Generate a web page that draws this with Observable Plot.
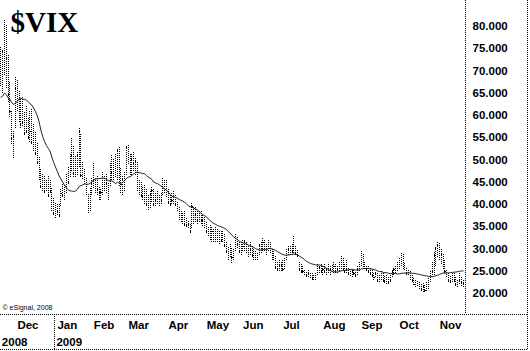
<!DOCTYPE html>
<html><head><meta charset="utf-8">
<script src="https://cdn.jsdelivr.net/npm/d3@7"></script>
<script src="https://cdn.jsdelivr.net/npm/@observablehq/plot@0.6"></script>
<style>
html,body{margin:0;padding:0;background:#fff;}
#chart svg{display:block;}
</style></head><body><div id="chart"></div>
<script>
// Daily $VIX bars, 18 Nov 2008 – 20 Nov 2009 (one entry per trading day)
const high = [
 75.5,74.6,81.5,80.3,73.5,67.5,61.0,56.5,
 68.6,68.0,65.5,63.5,64.0,61.0,62.0,59.5,61.0,61.5,58.0,56.5,54.0,50.5,48.0,47.0,46.5,45.5,46.5,45.5,43.5,41.5,
 40.5,40.3,39.9,43.6,44.6,44.5,46.8,48.5,51.5,55.0,53.0,51.0,52.0,57.2,56.0,49.5,48.0,46.0,42.5,43.5,
 46.0,49.5,46.0,46.5,44.0,43.5,47.5,46.5,47.0,45.0,49.5,51.0,50.0,51.5,52.5,53.0,48.0,46.5,47.5,
 53.0,53.5,51.5,51.5,52.0,50.5,49.5,45.5,45.0,44.0,44.5,43.5,42.0,43.0,44.0,43.5,42.5,43.0,42.0,42.5,46.0,45.5,
 45.5,43.5,42.0,42.5,43.0,42.0,40.5,39.5,38.5,38.0,38.6,37.0,36.5,35.8,40.2,39.5,39.3,38.5,38.5,38.6,37.5,
 37.0,36.0,35.0,35.5,35.0,34.5,34.8,34.5,34.0,34.0,34.0,33.5,31.5,30.5,31.0,30.0,30.0,33.5,32.5,31.5,
 31.5,32.0,32.0,31.5,30.5,31.5,30.5,30.0,29.5,29.0,31.0,31.5,32.6,32.0,31.0,32.0,31.5,30.0,29.5,28.5,27.0,27.5,
 27.0,27.5,28.0,30.0,30.8,30.5,31.0,33.0,30.5,29.7,27.0,26.5,26.0,25.5,25.0,25.2,24.8,24.5,24.0,24.5,26.5,26.3,
 26.5,26.0,26.7,25.8,26.5,26.0,26.3,27.0,26.5,26.0,27.0,28.5,28.0,26.5,27.5,25.8,25.5,25.5,25.5,25.0,26.0,
 27.0,29.7,29.0,27.0,26.3,26.0,25.8,25.2,24.8,25.0,24.5,24.0,25.0,24.5,24.0,24.0,23.5,24.0,25.5,25.8,26.0,
 27.0,28.0,29.2,29.0,27.0,25.8,25.5,25.0,24.0,23.5,23.0,23.0,22.5,22.0,22.5,22.0,22.5,23.5,25.0,27.0,29.5,30.3,
 31.5,31.2,30.0,29.0,27.5,25.5,24.5,24.0,24.5,24.5,23.5,23.0,24.5,23.5,23.0
];
const low = [
 66.5,65.0,69.0,66.0,63.0,59.5,53.5,50.3,
 57.0,61.0,58.5,57.0,57.5,55.5,56.0,54.5,54.0,53.5,52.0,51.0,49.0,45.5,43.5,43.0,42.5,43.0,41.5,42.5,38.5,37.5,
 36.9,37.5,37.0,39.5,41.5,41.0,42.5,44.5,46.0,47.5,46.0,46.0,46.5,48.3,46.0,45.6,44.5,42.0,38.0,38.5,
 42.0,43.5,42.5,42.0,41.0,41.0,42.0,43.0,42.5,41.0,44.0,45.5,45.5,46.0,45.5,44.0,42.5,42.0,43.0,
 46.5,49.0,46.0,46.5,47.5,46.5,43.0,42.0,41.5,41.0,40.0,39.5,38.6,39.0,40.5,39.5,39.5,40.0,39.5,40.0,42.0,42.5,
 41.5,40.0,39.5,40.0,40.0,39.5,38.5,36.5,36.0,35.5,35.0,34.8,34.5,33.5,34.5,35.5,36.0,35.5,36.0,35.5,35.0,
 34.5,33.5,32.8,32.0,31.5,31.5,31.5,31.5,31.0,31.5,31.5,30.3,29.0,27.5,28.0,26.7,27.5,29.5,30.0,29.0,
 28.5,29.5,29.5,29.0,28.0,28.5,28.0,27.5,27.5,27.5,28.5,29.0,29.5,29.5,28.5,29.5,29.0,27.4,27.5,25.5,25.0,25.0,
 25.0,25.0,25.5,27.5,28.5,28.5,28.5,29.0,28.5,28.0,25.0,24.5,24.5,24.0,23.5,23.5,23.3,23.0,22.9,23.0,24.0,24.5,
 24.5,24.0,24.5,24.0,24.5,24.0,24.8,24.5,24.5,24.5,25.0,25.5,25.0,24.5,24.5,24.0,23.8,23.5,24.0,23.5,24.0,
 25.0,26.0,25.8,25.5,25.0,24.5,24.0,23.5,23.0,23.5,22.5,22.5,23.0,22.5,22.3,22.0,22.0,22.5,23.5,24.0,24.5,
 25.0,25.5,26.0,25.5,25.2,24.0,24.0,23.0,22.5,21.8,21.3,21.5,20.8,20.5,20.3,20.2,20.5,21.0,22.5,24.0,24.0,26.0,
 28.0,27.5,26.5,25.5,24.5,23.5,22.5,22.3,22.5,22.5,21.5,21.3,22.0,21.5,21.3
];
const close = [
 67.6,74.3,80.9,72.7,64.7,60.9,54.9,55.3,
 66.0,62.0,59.0,58.0,58.5,56.0,56.5,55.0,56.5,54.0,53.0,51.5,49.5,46.0,44.0,43.5,43.0,43.5,42.0,43.0,39.0,38.0,
 38.0,38.5,37.5,42.5,42.0,41.5,45.0,45.0,48.0,51.0,47.0,49.0,51.0,56.5,46.5,47.3,45.7,42.3,38.3,42.8,
 44.8,45.5,43.1,43.4,42.8,42.6,46.2,44.0,44.8,42.0,48.7,47.1,46.9,49.0,52.2,44.7,44.4,45.6,46.4,
 52.7,50.9,46.8,50.2,49.3,49.7,43.6,44.4,42.0,41.7,42.4,40.0,40.3,42.3,43.2,40.0,41.0,41.5,40.3,41.0,45.5,44.1,
 42.3,40.5,40.0,40.9,42.0,40.1,39.0,36.6,37.9,36.2,35.5,35.3,35.5,34.0,39.5,36.6,37.8,36.3,37.9,36.5,36.5,
 35.3,34.0,34.0,32.5,34.0,32.1,33.5,32.5,33.5,32.0,33.1,30.8,29.4,29.5,30.0,28.0,29.0,31.5,31.0,29.5,
 31.0,30.6,31.6,29.7,29.6,29.8,28.5,29.0,28.2,28.2,30.8,30.5,31.5,30.0,30.0,31.5,30.5,29.0,28.0,25.9,25.4,26.4,
 26.2,25.5,27.9,29.0,29.8,30.0,29.5,30.5,29.0,28.5,25.5,25.0,25.0,24.3,24.0,24.5,23.5,23.4,23.1,24.0,26.0,25.9,
 25.0,25.5,25.0,25.5,24.8,25.5,25.5,26.0,25.0,25.5,26.5,27.5,25.5,25.0,25.5,24.5,24.0,25.0,24.5,24.0,25.5,
 26.0,29.0,26.5,26.0,25.5,25.0,24.5,24.0,23.5,24.5,23.0,23.5,24.0,23.0,22.8,23.5,22.5,23.0,25.0,25.5,25.6,
 26.5,27.5,28.5,26.0,25.5,24.5,24.8,23.5,23.0,22.0,22.5,21.8,21.5,21.0,21.5,20.7,22.0,23.0,24.5,25.0,28.5,30.0,
 30.7,29.8,28.8,27.0,25.0,24.2,23.0,22.8,24.0,23.0,22.0,22.5,23.0,22.5,22.2
];
// 19 closes before the first bar (22 Oct – 17 Nov 2008), feeding the 20-day average
const priorCloses = [69.7,67.8,79.1,80.1,67.0,70.0,62.9,59.9,54.9,47.7,54.6,63.7,56.1,60.0,61.4,66.5,59.8,66.3,67.6];
const maPeriod = 20;

const monthLabels = ["Dec","Jan","Feb","Mar","Apr","May","Jun","Jul","Aug","Sep","Oct","Nov"];
const monthStarts = [8,30,50,69,91,112,132,154,176,197,218,240];   // bar index of each month's first session
const yearLabels = ["2008","2009"];
const yearStarts = [0,30];
const yTicks = [20,25,30,35,40,45,50,55,60,65,70,75,80];
const title = "$VIX";
const credit = "© eSignal, 2008";

const n = Math.min(high.length, low.length, close.length);
const bars = d3.range(n).map(i => ({i, high: high[i], low: low[i], close: close[i]}));
const allCloses = priorCloses.concat(close.slice(0, n));
const ma = bars.map(b => {
  const k = b.i + priorCloses.length;
  return {i: b.i, ma: d3.mean(allCloses.slice(k - maPeriod + 1, k + 1))};
});

const W = 530, H = 351, MR = 65, MB = 37;
const sans = "'Liberation Sans', Arial, sans-serif";
const chart = Plot.plot({
  width: W, height: H,
  marginLeft: 0, marginRight: MR, marginTop: 0, marginBottom: MB,
  x: {domain: [-0.2, 255.3], axis: null},
  y: {domain: [15.28, 85.84], axis: null},
  style: {background: "#fff", fontFamily: sans, overflow: "visible"},
  marks: [
    Plot.ruleX(bars, {x: "i", y1: "low", y2: "high", stroke: "#000", strokeWidth: 1, strokeDasharray: "1,1", shapeRendering: "crispEdges"}),
    Plot.ruleY(bars, {y: "close", x1: "i", x2: d => d.i + 0.6, stroke: "#000", strokeWidth: 1, shapeRendering: "crispEdges"}),
    Plot.line(ma, {x: "i", y: "ma", stroke: "#222", strokeWidth: 1}),
    Plot.axisY(yTicks, {anchor: "right", tickSize: 0, tickPadding: 7, tickFormat: d => d.toFixed(3), fontSize: 11.5, fontWeight: "bold", fill: "#000", label: null}),
    Plot.axisX(monthStarts, {anchor: "bottom", tickSize: 0, tickPadding: 6, tickFormat: d => monthLabels[monthStarts.indexOf(d)], textAnchor: "start", dx: 2, fontSize: 11.5, fontWeight: "bold", fill: "#000", label: null}),
    Plot.axisX(yearStarts, {anchor: "bottom", tickSize: 0, tickPadding: 23, tickFormat: d => yearLabels[yearStarts.indexOf(d)], textAnchor: "start", dx: 1, fontSize: 11.5, fontWeight: "bold", fill: "#000", label: null}),
    Plot.text([title], {frameAnchor: "top-left", dx: 10, dy: 11, lineAnchor: "top", textAnchor: "start", fontSize: 29, fontWeight: "bold", fontFamily: "'Liberation Serif', 'Times New Roman', serif", fill: "#000"}),
    Plot.text([credit], {frameAnchor: "bottom-left", dx: 2, dy: -7, lineAnchor: "middle", textAnchor: "start", fontSize: 7, fill: "#000"})
  ]
});

// panel borders and the year divider in the date strip
const xs = chart.scale("x");
const svg = d3.select(chart);
const g = svg.append("g").attr("stroke", "#000").attr("stroke-dasharray", "1,1").attr("shape-rendering", "crispEdges");
const plotRight = W - MR, plotBottom = H - MB;
g.append("line").attr("x1", plotRight + 0.5).attr("x2", plotRight + 0.5).attr("y1", 0).attr("y2", plotBottom);
g.append("line").attr("x1", 0).attr("x2", W - 2).attr("y1", plotBottom + 0.5).attr("y2", plotBottom + 0.5);
g.append("line").attr("x1", 0).attr("x2", W - 2).attr("y1", H - 1.5).attr("y2", H - 1.5);
g.append("line").attr("x1", W - 2.5).attr("x2", W - 2.5).attr("y1", 0).attr("y2", H - 1);
const yearX = Math.floor(xs.apply(yearStarts[1] - 0.5)) + 0.5;
g.append("line").attr("x1", yearX).attr("x2", yearX).attr("y1", plotBottom).attr("y2", H - 1);

document.getElementById("chart").appendChild(chart);
</script>
</body></html>
